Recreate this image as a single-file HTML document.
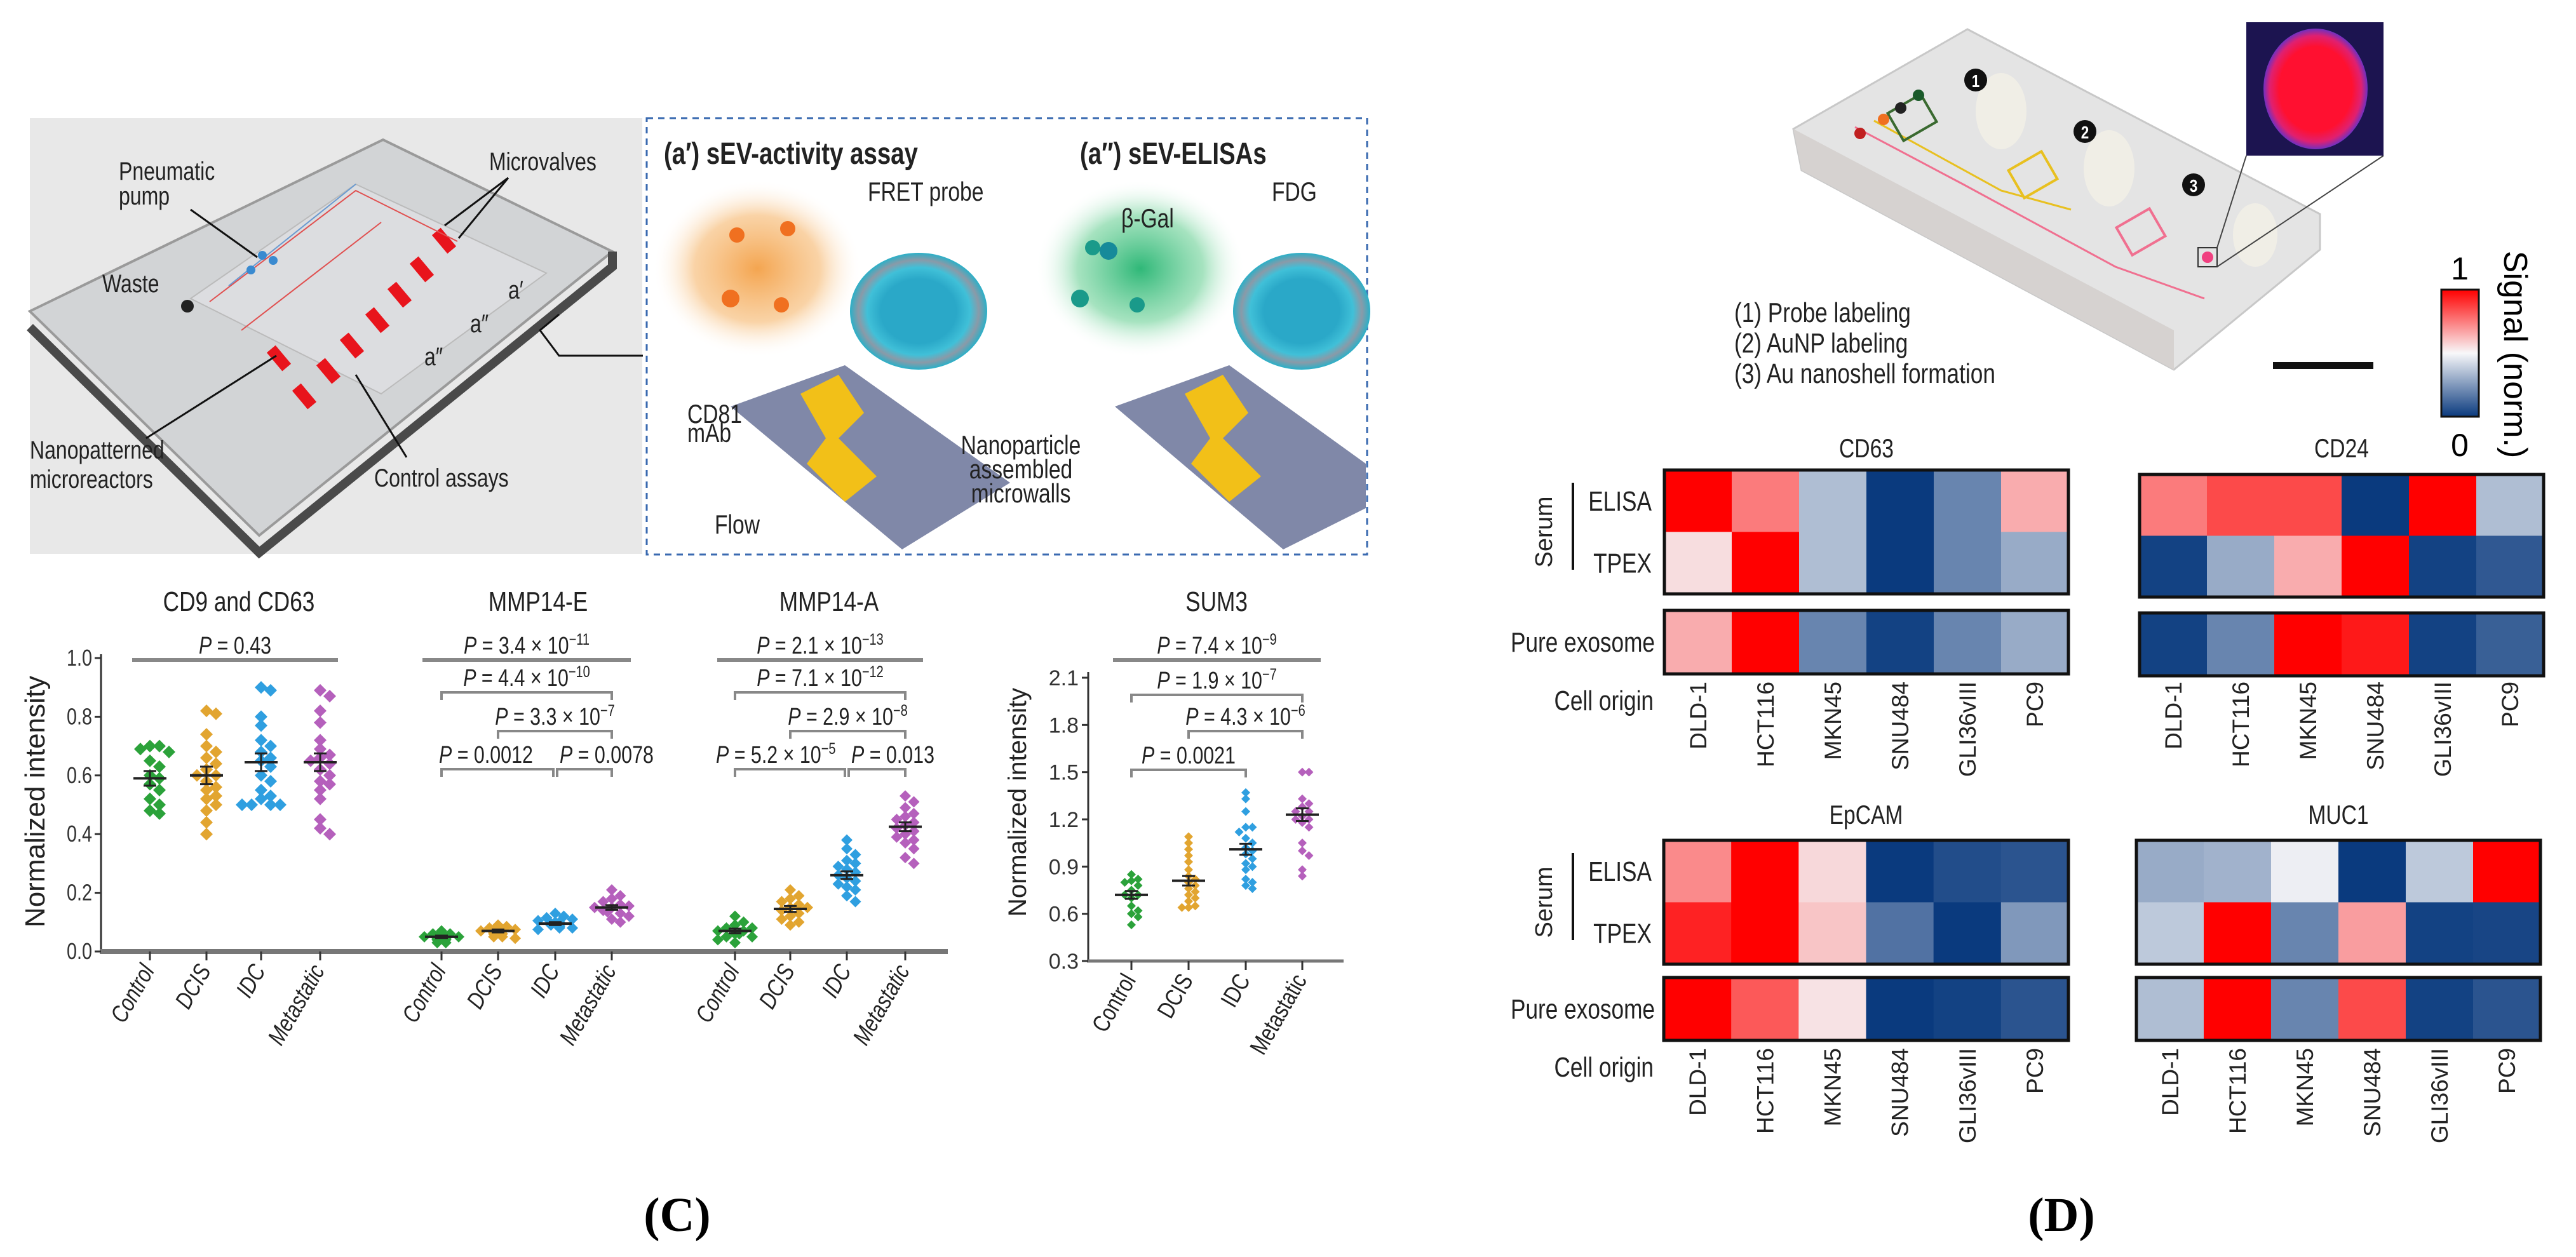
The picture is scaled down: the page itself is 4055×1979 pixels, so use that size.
<!DOCTYPE html>
<html><head><meta charset="utf-8"><style>
html,body{margin:0;padding:0;background:#fff}
svg{display:block}
text{font-family:"Liberation Sans Narrow","Liberation Sans",sans-serif}
</style></head><body>
<svg id="fig" width="4055" height="1979" viewBox="0 0 4055 1979" xmlns="http://www.w3.org/2000/svg">
<defs>
<radialGradient id="gOr"><stop offset="0" stop-color="#f4a550"/><stop offset="0.6" stop-color="#f8c890" stop-opacity="0.8"/><stop offset="1" stop-color="#fff" stop-opacity="0"/></radialGradient>
<radialGradient id="gGr"><stop offset="0" stop-color="#2fb878"/><stop offset="0.6" stop-color="#90dcb0" stop-opacity="0.8"/><stop offset="1" stop-color="#fff" stop-opacity="0"/></radialGradient>
<radialGradient id="gEx"><stop offset="0.55" stop-color="#2aa8c8"/><stop offset="0.75" stop-color="#40c0d8"/><stop offset="0.88" stop-color="#8a9aa8"/><stop offset="1" stop-color="#2ab0c8"/></radialGradient>
<radialGradient id="gIn"><stop offset="0.7" stop-color="#ff1030"/><stop offset="0.88" stop-color="#e02070"/><stop offset="1" stop-color="#7030c0"/></radialGradient>
<linearGradient id="gCb" x1="0" y1="0" x2="0" y2="1"><stop offset="0" stop-color="#ff0000"/><stop offset="0.5" stop-color="#f8f8fa"/><stop offset="1" stop-color="#0a3a7e"/></linearGradient>
</defs>

<g>
<rect x="47" y="186" width="964" height="686" fill="#e8e8e8"/>
<polygon points="603,220 964,396 408,843 47,490" fill="#d2d4d6" stroke="#9a9a9a" stroke-width="4"/>
<polyline points="964,396 964,420 408,870 47,515" fill="none" stroke="#4a4a4a" stroke-width="14"/>
<polygon points="560,290 860,430 600,620 300,470" fill="#dcdde0" stroke="#bbb" stroke-width="2"/>
<g fill="#e8141c">
<rect x="690" y="360" width="18" height="38" transform="rotate(-40 699 379)"/>
<rect x="655" y="405" width="18" height="38" transform="rotate(-40 664 424)"/>
<rect x="620" y="445" width="18" height="38" transform="rotate(-40 629 464)"/>
<rect x="585" y="485" width="18" height="38" transform="rotate(-40 594 504)"/>
<rect x="545" y="525" width="18" height="38" transform="rotate(-40 554 544)"/>
<rect x="508" y="565" width="18" height="38" transform="rotate(-40 517 584)"/>
<rect x="470" y="605" width="18" height="38" transform="rotate(-40 479 624)"/>
<rect x="430" y="545" width="18" height="38" transform="rotate(-40 439 564)"/>
</g>
<g fill="none" stroke="#e05050" stroke-width="2"><polyline points="330,475 560,300 720,380"/><polyline points="380,520 600,350"/></g>
<g fill="none" stroke="#6a9ad0" stroke-width="2"><polyline points="360,450 560,290"/></g>
<circle cx="413" cy="402" r="7" fill="#3a8ad0"/><circle cx="430" cy="410" r="7" fill="#3a8ad0"/><circle cx="395" cy="425" r="7" fill="#3a8ad0"/>
<circle cx="295" cy="482" r="10" fill="#222"/>
<g fill="#222" font-size="40">
<text x="187" y="283">Pneumatic</text><text x="187" y="322">pump</text>
<text x="770" y="268">Microvalves</text>
<text x="161" y="460">Waste</text>
<text x="47" y="722">Nanopatterned</text><text x="47" y="768">microreactors</text>
<text x="589" y="766">Control assays</text>
<text x="800" y="470">a′</text><text x="740" y="523">a″</text><text x="668" y="575">a″</text>
</g>
<g stroke="#111" stroke-width="3" fill="none">
<line x1="300" y1="330" x2="405" y2="405"/><line x1="800" y1="280" x2="700" y2="355"/><line x1="800" y1="280" x2="722" y2="375"/>
<line x1="230" y1="690" x2="435" y2="560"/><line x1="560" y1="590" x2="640" y2="720"/>
<polyline points="880,495 850,520 880,560 1012,560"/>
</g>
</g>

<g>
<rect x="1018" y="186" width="1134" height="687" fill="#fff" stroke="#3a6ab0" stroke-width="3" stroke-dasharray="10 8"/>
<text x="1045" y="258" font-size="48" font-weight="bold" fill="#222">(a′) sEV-activity assay</text>
<text x="1700" y="258" font-size="48" font-weight="bold" fill="#222">(a″) sEV-ELISAs</text>
<ellipse cx="1192" cy="423" rx="165" ry="140" fill="url(#gOr)"/>
<ellipse cx="1795" cy="423" rx="165" ry="140" fill="url(#gGr)"/>
<ellipse cx="1446" cy="490" rx="108" ry="92" fill="url(#gEx)"/>
<ellipse cx="2049" cy="490" rx="108" ry="92" fill="url(#gEx)"/>
<polygon points="1150,640 1330,575 1590,760 1420,865" fill="#8088a8"/>
<polygon points="1755,640 1935,575 2150,730 2150,800 2020,865" fill="#8088a8"/>
<path d="M1260,620 l60,-30 l40,60 l-40,40 l60,60 l-50,40 l-60,-60 l30,-40z" fill="#f2c018"/>
<path d="M1865,620 l60,-30 l40,60 l-40,40 l60,60 l-50,40 l-60,-60 l30,-40z" fill="#f2c018"/>
<g fill="#f07020"><circle cx="1160" cy="370" r="12"/><circle cx="1240" cy="360" r="12"/><circle cx="1150" cy="470" r="14"/><circle cx="1230" cy="480" r="12"/></g>
<g fill="#1a9a8a"><circle cx="1720" cy="390" r="12"/><circle cx="1700" cy="470" r="14"/><circle cx="1790" cy="480" r="12"/></g>
<circle cx="1745" cy="395" r="14" fill="#168a9a"/>
<g fill="#222" font-size="42">
<text x="1366" y="316">FRET probe</text><text x="2002" y="316">FDG</text>
<text x="1765" y="358">β-Gal</text>
<text x="1082" y="666">CD81</text><text x="1082" y="696">mAb</text>
<text x="1607" y="715" text-anchor="middle">Nanoparticle</text><text x="1607" y="753" text-anchor="middle">assembled</text><text x="1607" y="791" text-anchor="middle">microwalls</text>
<text x="1125" y="840">Flow</text>
</g>
</g>

<g id="chartC"></g>
<text x="1066" y="1938" font-size="76" font-weight="bold" text-anchor="middle" style="font-family:'Liberation Serif',serif">(C)</text>

<g>
<polygon points="3097,46 3652,337 3652,393 3422,582 2836,268 2823,203" fill="#e4e4e4" stroke="#c8c8c8" stroke-width="3"/>
<polygon points="2823,203 3422,520 3422,582 2836,268" fill="#d6d2d0"/>
<polyline points="2920,200 3090,290 3330,420 3470,470" fill="none" stroke="#f07090" stroke-width="3"/>
<polyline points="2950,190 3150,300 3260,330" fill="none" stroke="#e8c020" stroke-width="3"/>
<rect x="2980" y="160" width="60" height="50" fill="none" stroke="#3a6a30" stroke-width="4" transform="rotate(-30 3010 185)"/>
<rect x="3170" y="250" width="60" height="50" fill="none" stroke="#e8c020" stroke-width="4" transform="rotate(-30 3200 275)"/>
<rect x="3340" y="340" width="60" height="50" fill="none" stroke="#f07090" stroke-width="4" transform="rotate(-30 3370 365)"/>
<circle cx="2928" cy="210" r="9" fill="#c02020"/><circle cx="2965" cy="188" r="9" fill="#f07020"/><circle cx="2992" cy="170" r="9" fill="#222"/><circle cx="3020" cy="150" r="9" fill="#1a5a2a"/>
<ellipse cx="3150" cy="175" rx="40" ry="60" fill="#f0eee6"/><ellipse cx="3320" cy="265" rx="40" ry="60" fill="#f0eee6"/><ellipse cx="3550" cy="370" rx="35" ry="50" fill="#f0eee6"/>
<circle cx="3110" cy="126" r="18" fill="#111"/><text x="3110" y="137" font-size="28" fill="#fff" text-anchor="middle" font-weight="bold">1</text>
<circle cx="3282" cy="207" r="18" fill="#111"/><text x="3282" y="218" font-size="28" fill="#fff" text-anchor="middle" font-weight="bold">2</text>
<circle cx="3453" cy="291" r="18" fill="#111"/><text x="3453" y="302" font-size="28" fill="#fff" text-anchor="middle" font-weight="bold">3</text>
<rect x="3460" y="390" width="30" height="30" fill="none" stroke="#333" stroke-width="2"/><circle cx="3475" cy="405" r="9" fill="#f04080"/>
<line x1="3490" y1="390" x2="3536" y2="245" stroke="#444" stroke-width="2"/><line x1="3490" y1="420" x2="3752" y2="245" stroke="#444" stroke-width="2"/>
<rect x="3536" y="35" width="216" height="210" fill="#1c1450"/>
<ellipse cx="3645" cy="140" rx="82" ry="95" fill="url(#gIn)"/>
<rect x="3578" y="570" width="158" height="11" fill="#111"/>
<g font-size="44" fill="#222"><text x="2730" y="507">(1) Probe labeling</text><text x="2730" y="555">(2) AuNP labeling</text><text x="2730" y="603">(3) Au nanoshell formation</text></g>
</g>
<g>
<rect x="3843" y="456" width="59" height="200" fill="url(#gCb)" stroke="#111" stroke-width="3"/>
<text x="3872" y="440" font-size="50" text-anchor="middle" style="font-family:'Liberation Sans',sans-serif">1</text>
<text x="3872" y="718" font-size="50" text-anchor="middle" style="font-family:'Liberation Sans',sans-serif">0</text>
<text transform="translate(3942,558) rotate(90)" font-size="52" text-anchor="middle" style="font-family:'Liberation Sans',sans-serif">Signal (norm.)</text>
</g>
<g id="heatD"></g>
<text x="3245" y="1938" font-size="76" font-weight="bold" text-anchor="middle" style="font-family:'Liberation Serif',serif">(D)</text>
</svg>

<script>
// ---------- Panel C data ----------
const groups = ['Control','DCIS','IDC','Metastatic'];
const cdCtrl = [0.70,0.70,0.69,0.68,0.65,0.63,0.60,0.59,0.57,0.55,0.52,0.50,0.48,0.47];
const cdDcis = [0.82,0.81,0.74,0.70,0.68,0.66,0.64,0.62,0.60,0.60,0.58,0.56,0.55,0.53,0.52,0.50,0.48,0.44,0.40];
const cdIdc  = [0.90,0.89,0.80,0.77,0.72,0.70,0.68,0.66,0.65,0.63,0.60,0.58,0.55,0.53,0.52,0.50,0.50,0.50,0.50];
const cdMet  = [0.89,0.87,0.82,0.78,0.72,0.69,0.67,0.66,0.65,0.64,0.62,0.60,0.58,0.57,0.55,0.52,0.45,0.42,0.40];
const cdMeans = [0.59,0.60,0.645,0.645];
const cdSem = [0.025,0.03,0.03,0.03];
const eCtrl = [0.07,0.06,0.06,0.05,0.05,0.05,0.05,0.04,0.04,0.04,0.03,0.03];
const eDcis = [0.09,0.085,0.08,0.075,0.07,0.07,0.07,0.065,0.06,0.06,0.05,0.05,0.045];
const eIdc  = [0.13,0.12,0.115,0.11,0.105,0.10,0.10,0.095,0.09,0.09,0.085,0.08,0.08,0.075];
const eMet  = [0.21,0.19,0.18,0.17,0.16,0.155,0.15,0.15,0.14,0.135,0.13,0.12,0.11,0.10];
const eMeans = [0.05,0.07,0.095,0.15];
const eSem = [0.004,0.005,0.005,0.008];
const aCtrl = [0.12,0.10,0.09,0.08,0.08,0.07,0.07,0.06,0.06,0.05,0.05,0.04,0.03];
const aDcis = [0.21,0.19,0.18,0.17,0.16,0.15,0.15,0.14,0.13,0.12,0.11,0.10,0.09];
const aIdc  = [0.38,0.35,0.33,0.31,0.30,0.29,0.28,0.27,0.26,0.25,0.24,0.23,0.22,0.21,0.19,0.17];
const aMet  = [0.53,0.51,0.49,0.47,0.46,0.45,0.44,0.43,0.42,0.41,0.40,0.39,0.38,0.37,0.35,0.32,0.30];
const aMeans = [0.07,0.145,0.26,0.425];
const aSem = [0.008,0.01,0.013,0.015];
const sCtrl = [0.85,0.82,0.81,0.80,0.78,0.75,0.72,0.72,0.70,0.65,0.62,0.60,0.58,0.53];
const sDcis = [1.09,1.05,1.01,0.97,0.93,0.88,0.84,0.82,0.80,0.78,0.76,0.74,0.72,0.70,0.68,0.65,0.64,0.64];
const sIdc  = [1.37,1.33,1.25,1.15,1.15,1.12,1.08,1.05,1.02,1.00,0.98,0.95,0.92,0.90,0.88,0.82,0.80,0.78,0.76];
const sMet  = [1.50,1.50,1.33,1.30,1.28,1.25,1.25,1.22,1.20,1.20,1.18,1.15,1.05,1.00,0.97,0.88,0.84];
const sMeans = [0.72,0.81,1.01,1.23];
const sSem = [0.025,0.03,0.035,0.04];
const leftTicks = [0.0,0.2,0.4,0.6,0.8,1.0];
const sumTicks = [0.3,0.6,0.9,1.2,1.5,1.8,2.1];
const cdP = [{a:0,b:3,t:'0.43',flat:true}];
const eP = [{a:0,b:3,t:'3.4',e:'−11',flat:true},{a:0,b:3,t:'4.4',e:'−10'},{a:1,b:3,t:'3.3',e:'−7'},{a:0,b:2,t:'0.0012',al:-4},{a:2,b:3,t:'0.0078',al:4}];
const aP = [{a:0,b:3,t:'2.1',e:'−13',flat:true},{a:0,b:3,t:'7.1',e:'−12'},{a:1,b:3,t:'2.9',e:'−8'},{a:0,b:2,t:'5.2',e:'−5',al:-30},{a:2,b:3,t:'0.013',al:4}];
const sP = [{a:0,b:3,t:'7.4',e:'−9',flat:true},{a:0,b:3,t:'1.9',e:'−7'},{a:1,b:3,t:'4.3',e:'−6'},{a:0,b:2,t:'0.0021'}];
const colors = ['#2ba23a','#e2a530','#2f9fe0','#b560bc'];

const NS='http://www.w3.org/2000/svg';
function mk(tag, attrs, parent){const e=document.createElementNS(NS,tag);for(const k in attrs)e.setAttribute(k,attrs[k]);parent.appendChild(e);return e;}
const C=document.getElementById('chartC');

function yLeft(v){return 1498 - v*462;}
function ySum(v){return 1513 - (v-0.3)/1.8*446;}

function swarm(vals, yf, cx, size){
  const placed=[];const out=[];
  vals.forEach(v=>{
    const y=yf(v);let k=0,x=cx;
    while(true){
      const off = k===0?0:(k%2?1:-1)*Math.ceil(k/2)*size;
      x=cx+off;
      if(!placed.some(p=>Math.hypot(p[0]-x,p[1]-y) < size*0.9))break;
      k++; if(k>4){x=cx+((placed.length%2)?-size*0.5:size*0.5);break;}
    }
    placed.push([x,y]);out.push([x,y]);
  });
  return out;
}

function drawPanel(o){
  const g=mk('g',{},C);
  
  
  const t=mk('text',{x:o.titleX,y:962,'font-size':44,'text-anchor':'middle',fill:'#222'},g);t.textContent=o.title;
  o.data.forEach((vals,gi)=>{
    swarm(vals,o.yf,o.xs[gi],o.ms*1.5).forEach(([x,y])=>{
      const d=mk('path',{d:`M${x},${y-o.ms}L${x+o.ms},${y}L${x},${y+o.ms}L${x-o.ms},${y}Z`,fill:colors[gi]},g);
      
      
    });
    const m=o.means[gi], s=o.sem[gi], x=o.xs[gi];
    mk('line',{x1:x-26,x2:x+26,y1:o.yf(m),y2:o.yf(m),stroke:'#222','stroke-width':4},g);
    mk('line',{x1:x,x2:x,y1:o.yf(m+s),y2:o.yf(m-s),stroke:'#222','stroke-width':3},g);
    mk('line',{x1:x-10,x2:x+10,y1:o.yf(m+s),y2:o.yf(m+s),stroke:'#222','stroke-width':3},g);
    mk('line',{x1:x-10,x2:x+10,y1:o.yf(m-s),y2:o.yf(m-s),stroke:'#222','stroke-width':3},g);
  });
  o.p.forEach((b,i)=>{
    const y=o.py[i];
    let x1=o.xs[b.a],x2=o.xs[b.b];
    if(b.flat){x1-=o.ext;x2+=o.ext;}
    if(!b.flat && o.p.some((c,j)=>j!==i&&o.py[j]===y)){ if(b.a===0&&b.b===2)x2-=3; else x1+=3; }
    mk('path',{d:b.flat?`M${x1},${y}H${x2}`:`M${x1},${y+12}V${y}H${x2}V${y+12}`,fill:'none',stroke:'#888','stroke-width':b.flat?6:4},g);
    const hasAl = (b.al!==undefined);
    const tx=mk('text',{x:hasAl?x1+b.al:(x1+x2)/2,y:y-10,'font-size':38,'text-anchor':hasAl?'start':'middle',fill:'#222'},g);
    const pi=mk('tspan',{'font-style':'italic'},tx);pi.textContent='P';
    const r=mk('tspan',{},tx);r.textContent=' = '+b.t+(b.e?' × 10':'');
    if(b.e){const sp=mk('tspan',{dy:-14,'font-size':25},tx);sp.textContent=b.e;}
  });
  o.xs.forEach((x,i)=>{
    mk('line',{x1:x,x2:x,y1:o.axisY,y2:o.axisY+14,stroke:'#333','stroke-width':3},g);
    const tl=mk('text',{transform:`translate(${x+8},${o.axisY+30}) rotate(-60)`,'font-size':38,'text-anchor':'end',fill:'#222','font-style':o.italic?'italic':'normal'},g);
    tl.textContent=groups[i];
  });
}

mk('line',{x1:159,x2:159,y1:1030,y2:1498,stroke:'#333','stroke-width':3},C);
mk('line',{x1:157,x2:1492,y1:1498,y2:1498,stroke:'#777','stroke-width':8},C);
leftTicks.forEach(v=>{
  mk('line',{x1:149,x2:159,y1:yLeft(v),y2:yLeft(v),stroke:'#333','stroke-width':3},C);
  const t=mk('text',{x:145,y:yLeft(v)+12,'font-size':36,'text-anchor':'end',fill:'#333'},C);t.textContent=v.toFixed(1);
});
const yl=mk('text',{transform:'translate(70,1262) rotate(-90)','font-size':44,'text-anchor':'middle',fill:'#222',style:"font-family:'Liberation Sans',sans-serif"},C);yl.textContent='Normalized intensity';



drawPanel({name:'cd9-cd63-plot',title:'CD9 and CD63',titleX:376,data:[cdCtrl,cdDcis,cdIdc,cdMet],means:cdMeans,sem:cdSem,xs:[236,325,411,504],yf:yLeft,ms:10,p:cdP,py:[1039],ext:28,axisY:1498,italic:true});
drawPanel({name:'mmp14e-plot',title:'MMP14-E',titleX:847,data:[eCtrl,eDcis,eIdc,eMet],means:eMeans,sem:eSem,xs:[695,784,874,963],yf:yLeft,ms:9,p:eP,py:[1039,1090,1151,1211,1211],ext:30,axisY:1498,italic:true});
drawPanel({name:'mmp14a-plot',title:'MMP14-A',titleX:1305,data:[aCtrl,aDcis,aIdc,aMet],means:aMeans,sem:aSem,xs:[1157,1244,1333,1425],yf:yLeft,ms:9,p:aP,py:[1039,1090,1151,1211,1211],ext:28,axisY:1498,italic:true});

mk('line',{x1:1713,x2:1713,y1:1058,y2:1513,stroke:'#333','stroke-width':3},C);
mk('line',{x1:1711,x2:2115,y1:1513,y2:1513,stroke:'#777','stroke-width':5},C);
sumTicks.forEach(v=>{
  mk('line',{x1:1703,x2:1713,y1:ySum(v),y2:ySum(v),stroke:'#333','stroke-width':3},C);
  const t=mk('text',{x:1698,y:ySum(v)+12,'font-size':34,'text-anchor':'end',fill:'#333',style:"font-family:'Liberation Sans',sans-serif"},C);t.textContent=v.toFixed(1);
});
const yl2=mk('text',{transform:'translate(1615,1263) rotate(-90)','font-size':40,'text-anchor':'middle',fill:'#222',style:"font-family:'Liberation Sans',sans-serif"},C);yl2.textContent='Normalized intensity';


drawPanel({name:'sum3-plot',title:'SUM3',titleX:1915,data:[sCtrl,sDcis,sIdc,sMet],means:sMeans,sem:sSem,xs:[1781,1871,1961,2050],yf:ySum,ms:7,p:sP,py:[1039,1094,1151,1212],ext:29,axisY:1513,italic:false});

// ---------- Panel D heatmap data ----------
const cellLines = ['DLD-1','HCT116','MKN45','SNU484','GLI36vIII','PC9'];
const cd63Elisa = [1.0,0.75,0.35,0.0,0.2,0.65];
const cd63Tpex  = [0.55,1.0,0.35,0.0,0.2,0.3];
const cd63Pure  = [0.65,1.0,0.2,0.02,0.2,0.3];
const cd24Elisa = [0.75,0.85,0.85,0.0,1.0,0.35];
const cd24Tpex  = [0.02,0.3,0.65,1.0,0.02,0.08];
const cd24Pure  = [0.02,0.2,1.0,0.95,0.02,0.1];
const epElisa = [0.72,1.0,0.56,0.0,0.05,0.07];
const epTpex  = [0.93,1.0,0.6,0.15,0.0,0.25];
const epPure  = [1.0,0.82,0.54,0.0,0.02,0.07];
const mucElisa = [0.3,0.32,0.48,0.0,0.38,1.0];
const mucTpex  = [0.38,1.0,0.2,0.68,0.02,0.03];
const mucPure  = [0.35,1.0,0.2,0.85,0.02,0.07];

function cmap(v){
  const lo=[10,58,126], mid=[246,246,248], hi=[255,0,0];
  let a,b,t; if(v < 0.5){a=lo;b=mid;t=v/0.5;}else{a=mid;b=hi;t=(v-0.5)/0.5;}
  return 'rgb('+a.map((c,i)=>Math.round(c+(b[i]-c)*t)).join(',')+')';
}
const H=document.getElementById('heatD');
function heat(o){
  const g=mk('g',{},H);
  
  
  const t=mk('text',{x:(o.x0+o.x1)/2,y:o.titleY,'font-size':42,'text-anchor':'middle',fill:'#222'},g);t.textContent=o.title;
  const cw=(o.x1-o.x0)/cellLines.length;
  const rh=(o.b1-o.t1)/2;
  [o.r1,o.r2].forEach((row,ri)=>row.forEach((v,ci)=>{
    const r=mk('rect',{x:o.x0+ci*cw,y:o.t1+ri*rh,width:cw+0.5,height:rh+0.5,fill:cmap(v)},g);
    
    
  }));
  o.r3.forEach((v,ci)=>{
    const r=mk('rect',{x:o.x0+ci*cw,y:o.t2,width:cw+0.5,height:o.b2-o.t2,fill:cmap(v)},g);
    
    
  });
  mk('rect',{x:o.x0,y:o.t1,width:o.x1-o.x0,height:o.b1-o.t1,fill:'none',stroke:'#111','stroke-width':5},g);
  mk('rect',{x:o.x0,y:o.t2,width:o.x1-o.x0,height:o.b2-o.t2,fill:'none',stroke:'#111','stroke-width':5},g);
  cellLines.forEach((n,ci)=>{
    const tx=mk('text',{transform:`translate(${o.x0+(ci+0.5)*cw+13},${o.labY}) rotate(-90)`,'font-size':37,'text-anchor':'end',fill:'#222',style:"font-family:'Liberation Sans',sans-serif"},g);
    tx.textContent=n;
  });
  if(o.rowLabels){
    const s=mk('text',{transform:`translate(2443,${(o.t1+o.b1)/2}) rotate(-90)`,'font-size':38,'text-anchor':'middle',fill:'#222',style:"font-family:'Liberation Sans',sans-serif"},g);s.textContent='Serum';
    mk('line',{x1:2476,x2:2476,y1:o.t1+20,y2:o.b1-38,stroke:'#111','stroke-width':4},g);
    const e=mk('text',{x:2600,y:o.t1+rh/2+15,'font-size':44,'text-anchor':'end',fill:'#222'},g);e.textContent='ELISA';
    const p=mk('text',{x:2600,y:o.t1+rh*1.5+15,'font-size':44,'text-anchor':'end',fill:'#222'},g);p.textContent='TPEX';
    const q=mk('text',{x:2605,y:(o.t2+o.b2)/2+15,'font-size':44,'text-anchor':'end',fill:'#222'},g);q.textContent='Pure exosome';
    const c=mk('text',{x:2603,y:o.labY+45,'font-size':44,'text-anchor':'end',fill:'#222'},g);c.textContent='Cell origin';
  }
}
heat({name:'heatmap-cd63',title:'CD63',titleY:720,x0:2620,x1:3256,t1:740,b1:935,t2:961,b2:1061,r1:cd63Elisa,r2:cd63Tpex,r3:cd63Pure,labY:1073,rowLabels:true});
heat({name:'heatmap-cd24',title:'CD24',titleY:720,x0:3368,x1:4004,t1:747,b1:940,t2:965,b2:1064,r1:cd24Elisa,r2:cd24Tpex,r3:cd24Pure,labY:1073,rowLabels:false});
heat({name:'heatmap-epcam',title:'EpCAM',titleY:1297,x0:2619,x1:3256,t1:1323,b1:1518,t2:1539,b2:1638,r1:epElisa,r2:epTpex,r3:epPure,labY:1650,rowLabels:true});
heat({name:'heatmap-muc1',title:'MUC1',titleY:1297,x0:3363,x1:3999,t1:1323,b1:1518,t2:1539,b2:1638,r1:mucElisa,r2:mucTpex,r3:mucPure,labY:1650,rowLabels:false});

document.querySelectorAll('#fig text').forEach(t=>{
  if((t.getAttribute('style')||'').indexOf('Liberation') >= 0) return;
  const L=t.getComputedTextLength();
  if(L > 0){t.setAttribute('textLength', (L*0.8).toFixed(1));t.setAttribute('lengthAdjust','spacingAndGlyphs');}
});
</script>
</body></html>
